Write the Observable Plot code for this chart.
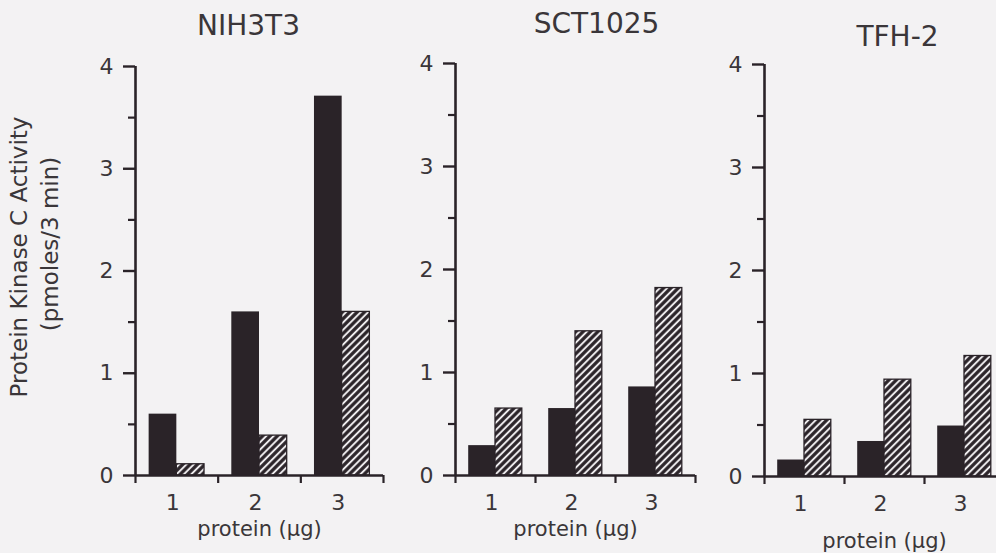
<!DOCTYPE html>
<html>
<head>
<meta charset="utf-8">
<script src="https://cdn.jsdelivr.net/npm/d3@7"></script>
<script src="https://cdn.jsdelivr.net/npm/@observablehq/plot@0.6"></script>
<style>
  html, body { margin: 0; padding: 0; background: #f3f2f3; overflow: hidden; }
  #chart { position: relative; width: 996px; height: 553px; overflow: hidden; background: #f3f2f3; }
  #chart > svg.panel { position: absolute; top: 0; }
</style>
</head>
<body>
<svg width="0" height="0" style="position:absolute">
  <defs>
    <pattern id="hatch" patternUnits="userSpaceOnUse" width="5.2" height="5.2" patternTransform="rotate(45)">
      <rect width="5.2" height="5.2" fill="#2a2328"></rect>
      <line x1="2.6" y1="0" x2="2.6" y2="5.2" stroke="#eeecee" stroke-width="2"></line>
    </pattern>
  </defs>
</svg>
<div id="chart"></div>
<script>
// ---- data ----
const doses = [1, 2, 3];
const cellLines = ["NIH3T3", "SCT1025", "TFH-2"];
const nih3t3Solid   = [0.60, 1.60, 3.71];
const nih3t3Hatched = [0.11, 0.39, 1.60];
const sct1025Solid   = [0.29, 0.65, 0.86];
const sct1025Hatched = [0.65, 1.40, 1.82];
const tfh2Solid   = [0.16, 0.34, 0.49];
const tfh2Hatched = [0.55, 0.94, 1.17];
const yTicks = [0, 1, 2, 3, 4];
const yMinorTicks = [0.5, 1.5, 2.5, 3.5];
const xBoundaries = [0.5, 1.5, 2.5, 3.5];
const yTitleLines = ["Protein Kinase C Activity", "(pmoles/3 min)"];
const xTitle = "protein (\u00b5g)";

// ---- style ----
const ink = "#2a2328";
const textInk = "#3a3639";
const barHalf = 0.335;

const panels = [
  {name: cellLines[0], solid: nih3t3Solid, hatched: nih3t3Hatched,
   left: 0, width: 400, mL: 135, mR: 17, mT: 66, mB: 78, titleDx: -11, titleDy: -32, xTitleDy: 60, yTitle: true},
  {name: cellLines[1], solid: sct1025Solid, hatched: sct1025Hatched,
   left: 400, width: 310, mL: 55, mR: 15, mT: 63, mB: 78, titleDx: 21, titleDy: -31, xTitleDy: 60, yTitle: false},
  {name: cellLines[2], solid: tfh2Solid, hatched: tfh2Hatched,
   left: 710, width: 300, mL: 54, mR: 6, mT: 64, mB: 77, titleDx: 13, titleDy: -19, xTitleDy: 71, yTitle: false}
];

const chart = document.getElementById("chart");

for (const p of panels) {
  const rows = doses.map((d, i) => ({dose: d, solid: p.solid[i], hatched: p.hatched[i]}));
  const marks = [
    Plot.rect(rows, {x1: d => d.dose - barHalf, x2: d => d.dose, y1: 0, y2: "solid", fill: ink}),
    Plot.rect(rows, {x1: d => d.dose, x2: d => d.dose + barHalf, y1: 0, y2: "hatched",
                     fill: "url(#hatch)", stroke: ink, strokeWidth: 1.3}),
    Plot.ruleX([0.5], {y1: 0, y2: 4, stroke: ink, strokeWidth: 2.6}),
    Plot.ruleY([0], {x1: 0.5, x2: 3.5, stroke: ink, strokeWidth: 2.6}),
    Plot.axisY({ticks: yTicks, tickSize: 12, tickPadding: 10, strokeWidth: 2.4, stroke: ink,
                fill: textInk, fontSize: 22, label: null, tickFormat: d => String(d)}),
    Plot.axisY({ticks: yMinorTicks, tickSize: 7, strokeWidth: 2.2, stroke: ink,
                label: null, tickFormat: () => ""}),
    Plot.axisX({ticks: xBoundaries, tickSize: 8, strokeWidth: 2.2, stroke: ink,
                label: null, tickFormat: () => ""}),
    Plot.axisX({ticks: doses, tickSize: 0, tickPadding: 19, dx: -4, fill: textInk,
                fontSize: 22, label: null, tickFormat: d => String(d)}),
    Plot.text([p.name], {text: d => d, frameAnchor: "top", lineAnchor: "bottom",
                         dx: p.titleDx, dy: p.titleDy, fontSize: 28, fill: textInk}),
    Plot.text([xTitle], {text: d => d, frameAnchor: "bottom", lineAnchor: "bottom",
                         dy: p.xTitleDy, fontSize: 21, fill: textInk})
  ];
  if (p.yTitle) {
    marks.push(Plot.text([yTitleLines[0]], {text: d => d, frameAnchor: "left", textAnchor: "middle",
                         rotate: -90, dx: -116, dy: -14, fontSize: 23, fill: textInk}));
    marks.push(Plot.text([yTitleLines[1]], {text: d => d, frameAnchor: "left", textAnchor: "middle",
                         rotate: -90, dx: -85, dy: -27, fontSize: 23, fill: textInk}));
  }
  const svg = Plot.plot({
    width: p.width,
    height: 553,
    marginLeft: p.mL,
    marginRight: p.mR,
    marginTop: p.mT,
    marginBottom: p.mB,
    x: {type: "linear", domain: [0.5, 3.5]},
    y: {type: "linear", domain: [0, 4]},
    style: {fontFamily: "DejaVu Sans", background: "transparent", color: textInk, overflow: "visible"},
    marks
  });
  svg.classList.add("panel");
  svg.style.left = p.left + "px";
  chart.appendChild(svg);
}
</script>
</body>
</html>
